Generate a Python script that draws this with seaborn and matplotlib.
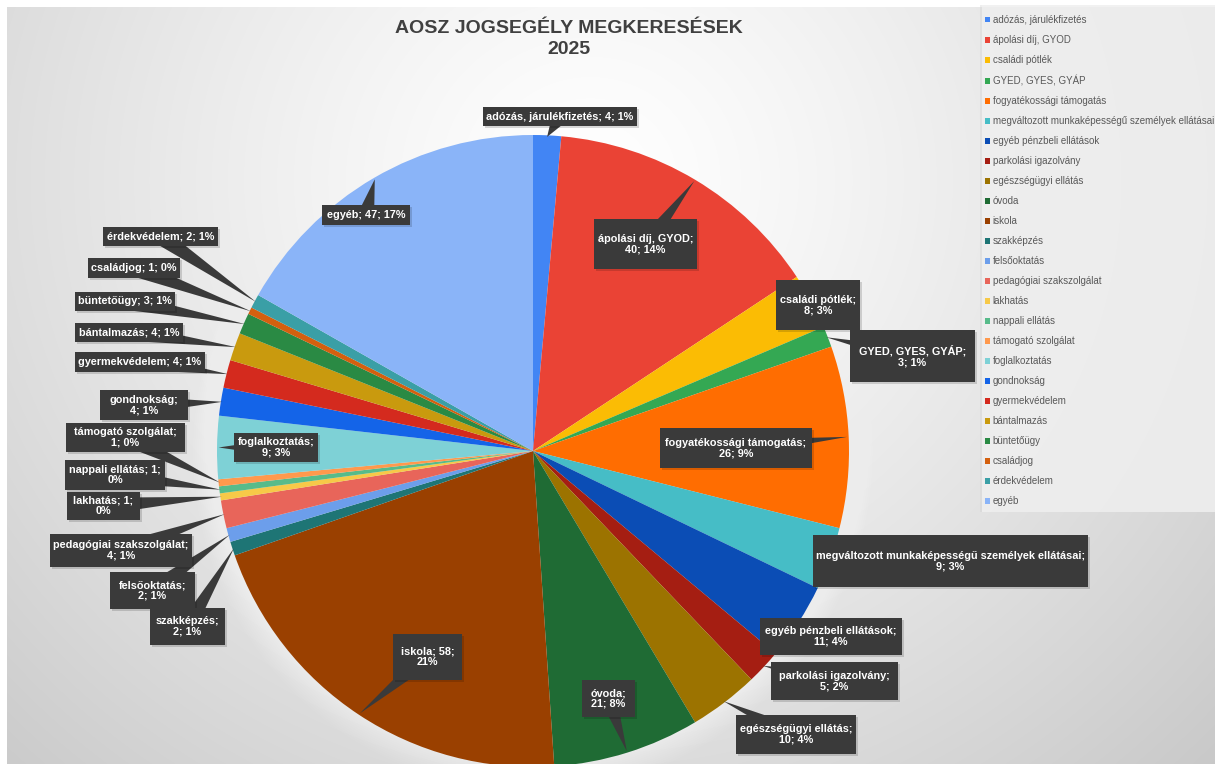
import numpy as np
import matplotlib
matplotlib.use("Agg")
import matplotlib.pyplot as plt
import seaborn as sns
from matplotlib.patches import Rectangle, Circle

# ---------------- data ----------------
categories = [
    "adózás, járulékfizetés", "ápolási díj, GYOD", "családi pótlék", "GYED, GYES, GYÁP",
    "fogyatékossági támogatás", "megváltozott munkaképességű személyek ellátásai",
    "egyéb pénzbeli ellátások", "parkolási igazolvány", "egészségügyi ellátás", "óvoda",
    "iskola", "szakképzés", "felsőoktatás", "pedagógiai szakszolgálat", "lakhatás",
    "nappali ellátás", "támogató szolgálat", "foglalkoztatás", "gondnokság",
    "gyermekvédelem", "bántalmazás", "büntetőügy", "családjog", "érdekvédelem", "egyéb",
]
values = [4, 40, 8, 3, 26, 9, 11, 5, 10, 21, 58, 2, 2, 4, 1, 1, 1, 9, 4, 4, 4, 3, 1, 2, 47]
colors = [
    "#4285F4", "#EA4335", "#FBBC04", "#34A853", "#FF6D01", "#46BDC6", "#0B4DB5",
    "#A51E12", "#9C7300", "#1F6B34", "#9A4000", "#1E7575", "#6C9EEB", "#E8655A",
    "#F7C948", "#57BB8A", "#FF994D", "#7ED1D6", "#1464E8", "#D42A1E", "#C99A0E",
    "#2A8A44", "#D4600F", "#3A9FA6", "#8AB4F8",
]
title = "AOSZ JOGSEGÉLY MEGKERESÉSEK\n2025"

# ---------------- layout ----------------
W, H = 1215, 764
CX, CY, R = 533, 451, 316           # pie centre / radius in reference pixels (y down)
# label box centres and sizes (reference pixels, y down)
label_pos = [
    (560, 116.5), (645.5, 244), (818, 305), (912.5, 356), (736, 448), (950.5, 561),
    (831, 636.5), (834.5, 681), (796, 734.5), (608.5, 698.5), (427.5, 657), (187.5, 626.5),
    (152.5, 590.5), (121, 550.5), (103.5, 506), (115, 475), (125.5, 437.5), (276, 447.5),
    (144, 405), (140, 362), (129, 332.5), (125, 301.5), (134, 268), (160.5, 236.5),
    (366, 215),
]
label_size = [
    (154, 19), (103, 50), (84, 50), (125, 52), (152, 40), (275, 52),
    (142, 37), (127, 38), (120, 39), (53, 37), (69, 46), (75, 37),
    (85, 37), (142, 33), (73, 28), (100, 30), (119, 29), (84, 29),
    (88, 30), (130, 20), (108, 19), (100, 19), (92, 20), (115, 19),
    (88, 20),
]
# 0 = one line, 1 = break after name, 2 = break after value
label_breaks = [0, 1, 1, 1, 1, 1, 1, 1, 1, 1, 2, 1, 1, 1, 2, 2, 1, 1, 1, 0, 0, 0, 0, 0, 0]

sns.set_theme(style="white")
plt.rcParams["font.family"] = ["Liberation Sans", "DejaVu Sans"]

fig = plt.figure(figsize=(W / 100, H / 100), dpi=100)
ax = fig.add_axes([0, 0, 1, 1])

# background radial gradient
yy, xx = np.mgrid[0:H, 0:W]
d = np.sqrt(((xx - 590) / 1.0) ** 2 + ((yy - 180) / 0.95) ** 2)
shade = 1.0 - 0.22 * np.clip(d / 900, 0, 1) ** 1.25
img = np.dstack([shade, shade, shade])
img[:7, :, :] = 1.0
img[:, :7, :] = 1.0
ax.imshow(img, extent=(0, W, 0, H), origin="upper", zorder=0, interpolation="bilinear")

# soft white halo round the pie
for k in range(1, 13):
    ax.add_patch(Circle((CX, H - CY), R + 2 * k, fc="white", ec="none", alpha=0.05, zorder=1))

wedges, _ = ax.pie(values, colors=colors, startangle=90, counterclock=False,
                   center=(CX, H - CY), radius=R,
                   wedgeprops=dict(linewidth=0))
for w in wedges:
    w.set_zorder(2)

BOX = "#3a3a3a"
total = sum(values)
cum = 0
for i, (cat, v) in enumerate(zip(categories, values)):
    mid = cum + v / 2
    cum += v
    ang = np.deg2rad(90 - mid / total * 360)
    tip = (CX + 0.995 * R * np.cos(ang), H - CY + 0.995 * R * np.sin(ang))
    pct = round(v / total * 100)
    if label_breaks[i] == 0:
        txt = f"{cat}; {v}; {pct}%"
    elif label_breaks[i] == 1:
        txt = f"{cat};\n{v}; {pct}%"
    else:
        txt = f"{cat}; {v};\n{pct}%"
    lx, ly = label_pos[i]
    bw, bh = label_size[i]
    cx, cy = lx, H - ly
    # callout wedge
    ax.annotate("", xy=tip, xytext=(cx, cy),
                arrowprops=dict(arrowstyle="wedge,tail_width=1.2", fc=BOX, ec="none",
                                patchA=None, patchB=None, shrinkA=0, shrinkB=0,
                                mutation_scale=10),
                zorder=4)
    # shadow + box
    ax.add_patch(Rectangle((cx - bw / 2 + 2, cy - bh / 2 - 2), bw, bh, fc="#000000",
                           ec="none", alpha=0.15, zorder=4.5))
    ax.add_patch(Rectangle((cx - bw / 2, cy - bh / 2), bw, bh, fc=BOX, ec="none", zorder=5))
    ax.text(cx, cy, txt, ha="center", va="center", color="white", fontsize=7.8,
            fontweight="bold", linespacing=1.12, zorder=6)

# title
ax.text(569, H - 39, title, ha="center", va="center", fontsize=14, fontweight="bold",
        color="#404040", linespacing=1.25, zorder=6)

# legend
ax.add_patch(Rectangle((982, H - 512), 240, 507, fc="#efefef", ec="none", alpha=0.85, zorder=3))
ax.add_patch(Rectangle((980, H - 512), 2, 507, fc="#d0d0d0", ec="none", alpha=0.35, zorder=3))
handles = [Rectangle((0, 0), 1, 1, fc=c, ec="none") for c in colors]
leg = ax.legend(handles, categories, loc="upper left", bbox_to_anchor=(985 / W, 1 - 15 / H),
                frameon=False, fontsize=7, labelspacing=1.03, handlelength=0.55,
                handleheight=0.55, handletextpad=0.25, borderpad=0, borderaxespad=0)
for t in leg.get_texts():
    t.set_color("#595959")
leg.set_zorder(7)

ax.set_xlim(0, W)
ax.set_ylim(0, H)
ax.set_aspect("auto")
ax.axis("off")
fig.savefig("out.png", dpi=100)
